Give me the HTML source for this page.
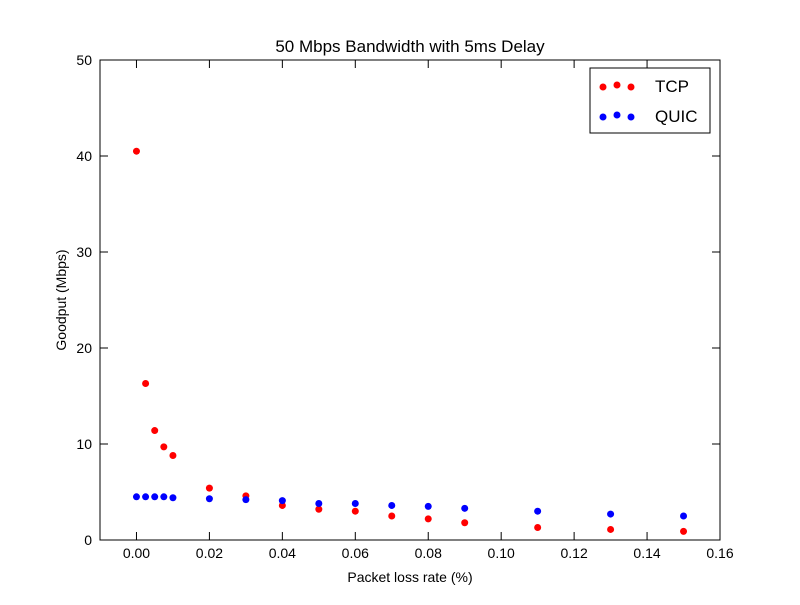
<!DOCTYPE html>
<html><head><meta charset="utf-8"><style>
body{margin:0;background:#fff;}
svg text{font-family:"Liberation Sans",sans-serif;}
</style></head><body>
<svg id="chart" width="800" height="600" viewBox="0 0 800 600">
<rect width="800" height="600" fill="#fff"/>
<g id="marks"></g>
<rect x="100" y="60" width="620" height="480" fill="none" stroke="#000" stroke-width="1"/>
<g id="axes"></g>
<text x="410" y="52" font-size="17" text-anchor="middle">50 Mbps Bandwidth with 5ms Delay</text>
<text x="410" y="582" font-size="14" text-anchor="middle">Packet loss rate (%)</text>
<text x="66" y="300" font-size="14" text-anchor="middle" transform="rotate(-90 66 300)">Goodput (Mbps)</text>
<g>
<rect x="590" y="68" width="120" height="65" fill="#fff" stroke="#000"/>
<g>
<circle cx="603" cy="87" r="3.5" fill="red"/><circle cx="617" cy="85" r="3.5" fill="red"/><circle cx="631" cy="87" r="3.5" fill="red"/>
<text x="655" y="92" font-size="17">TCP</text></g>
<g>
<circle cx="603" cy="117" r="3.5" fill="blue"/><circle cx="617" cy="115" r="3.5" fill="blue"/><circle cx="631" cy="117" r="3.5" fill="blue"/>
<text x="655" y="122" font-size="17">QUIC</text></g>
</g>
</svg>
<script>
const xs=[0,0.0025,0.005,0.0075,0.01,0.02,0.03,0.04,0.05,0.06,0.07,0.08,0.09,0.11,0.13,0.15];
const tcp=[40.5,16.3,11.4,9.7,8.8,5.4,4.6,3.6,3.2,3.0,2.5,2.2,1.8,1.3,1.1,0.9];
const quic=[4.5,4.5,4.5,4.5,4.4,4.3,4.2,4.1,3.8,3.8,3.6,3.5,3.3,3.0,2.7,2.5];
const xTicks=[0,0.02,0.04,0.06,0.08,0.1,0.12,0.14,0.16];
const xTickLabels=["0.00","0.02","0.04","0.06","0.08","0.10","0.12","0.14","0.16"];
const yTicks=[0,10,20,30,40,50];
const NS="http://www.w3.org/2000/svg";
const X=v=>100+(v+0.01)/0.17*620;
const Y=v=>540-v/50*480;
const marks=document.getElementById('marks'),axes=document.getElementById('axes');
function el(t,a,p){const e=document.createElementNS(NS,t);for(const k in a)e.setAttribute(k,a[k]);p.appendChild(e);return e;}
[[tcp,'red','tcp'],[quic,'blue','quic']].forEach(([s,c,n])=>{
 s.forEach((v,i)=>{const e=el('circle',{cx:X(xs[i]),cy:Y(v),r:3.5,fill:c},marks);
 
 });
});
xTicks.forEach((t,i)=>{const x=X(t);
 el('line',{x1:x,x2:x,y1:540,y2:532,stroke:'#000'},axes);
 el('line',{x1:x,x2:x,y1:60,y2:68,stroke:'#000'},axes);
 const tx=el('text',{x:x,y:558,'font-size':14,'text-anchor':'middle'},axes);tx.textContent=xTickLabels[i];
 
 });
yTicks.forEach(t=>{const y=Y(t);
 el('line',{x1:100,x2:108,y1:y,y2:y,stroke:'#000'},axes);
 el('line',{x1:720,x2:712,y1:y,y2:y,stroke:'#000'},axes);
 const tx=el('text',{x:92,y:y+5,'font-size':14,'text-anchor':'end'},axes);tx.textContent=t;
 
 });
</script>
</body></html>
